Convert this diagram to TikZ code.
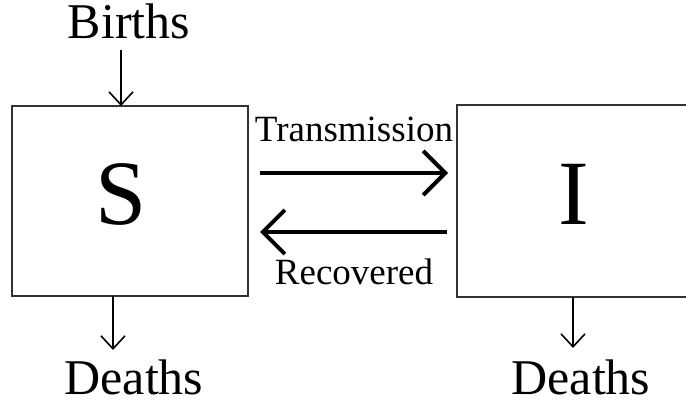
\documentclass[tikz,border=0pt]{standalone}
\usepackage{fontspec}
\setmainfont{Liberation Serif}
\usetikzlibrary{arrows.meta}
\begin{document}
\begin{tikzpicture}[x=1pt,y=-1pt,
  box/.style={draw=black!80, line width=1.3pt},
  big/.style={anchor=base, inner sep=0pt, font=\fontsize{92}{92}\selectfont},
  lbl/.style={anchor=base, inner sep=0pt, font=\fontsize{50}{50}\selectfont},
  small/.style={anchor=base, inner sep=0pt, font=\fontsize{37}{37}\selectfont},
  thin/.style={line width=1.6pt, -{Straight Barb[length=13pt,width=24pt,line width=1.6pt]}},
  thick/.style={line width=4pt, -{Straight Barb[length=22pt,width=44pt,line width=4pt]}}]
\useasboundingbox (0,0) rectangle (686,406);
\fill[white] (0,0) rectangle (686,406);
\draw[box] (12,106) rectangle (248,296);
\draw[box] (457,105) rectangle (700,297);
\coordinate (Stop) at (121,106);
\coordinate (Sbot) at (113,296);
\coordinate (Ibot) at (573,297);
\node[big] (S) at (121,225) {S};
\node[big] (I) at (574,225) {I};
\node[lbl] (births) at (129,39) {Births};
\node[lbl] (deathsS) at (134,394) {Deaths};
\node[lbl] (deathsI) at (581,394) {Deaths};
\node[small] (trans) at (354,142) {Transmission};
\node[small] (rec) at (354,285) {Recovered};
\coordinate (t1) at (260,173);
\coordinate (t2) at (448,173);
\coordinate (r1) at (447,232);
\coordinate (r2) at (260,232);
\coordinate (b1) at (121,50);
\coordinate (d1) at (113,350);
\coordinate (d2) at (573,348);
\draw[thin] (b1) -- (Stop);
\draw[thin] (Sbot) -- (d1);
\draw[thin] (Ibot) -- (d2);
\draw[thick] (t1) -- (t2);
\draw[thick] (r1) -- (r2);
\end{tikzpicture}
\end{document}
